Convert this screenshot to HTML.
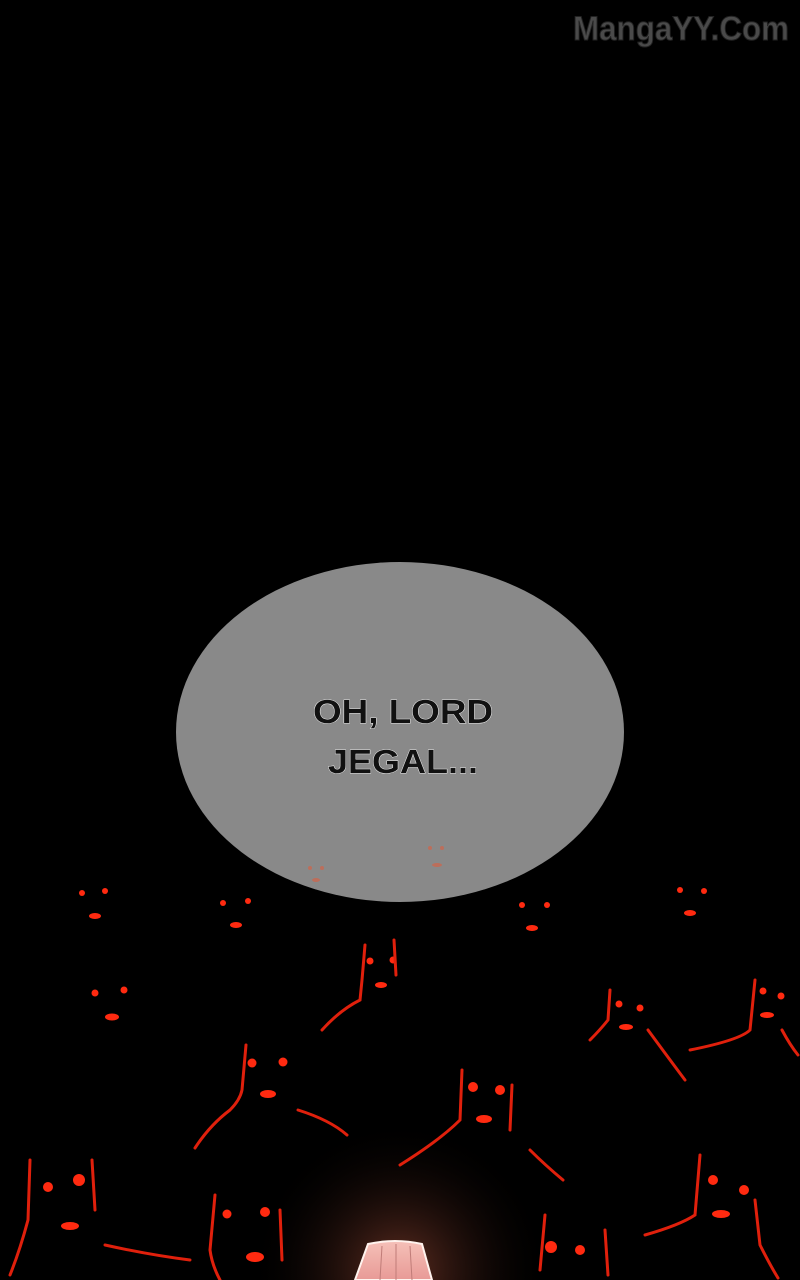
<!DOCTYPE html>
<html><head><style>
html,body{margin:0;padding:0;background:#000;width:800px;height:1280px;overflow:hidden}
svg{display:block}
</style></head><body>
<svg width="800" height="1280" xmlns="http://www.w3.org/2000/svg">
<defs>
<radialGradient id="glow" cx="400" cy="1270" r="150" gradientUnits="userSpaceOnUse">
<stop offset="0" stop-color="#7a3a2a" stop-opacity="0.8"/>
<stop offset="1" stop-color="#000" stop-opacity="0"/>
</radialGradient>
<linearGradient id="pink" x1="0" y1="0" x2="0" y2="1">
<stop offset="0" stop-color="#f5c0b8"/><stop offset="1" stop-color="#e89a96"/>
</linearGradient>
</defs>
<rect width="800" height="1280" fill="#000"/>
<text x="681" y="40" text-anchor="middle" font-family="Liberation Sans, sans-serif" font-weight="bold" font-size="34" fill="#4a4a4a" stroke="#222" stroke-width="1" textLength="216" lengthAdjust="spacingAndGlyphs">MangaYY.Com</text>
<ellipse cx="400" cy="732" rx="224" ry="170" fill="#898989"/>
<g font-family="Liberation Sans, sans-serif" font-weight="bold" font-size="33" fill="#111" stroke="#fff" stroke-width="0.8" paint-order="stroke" text-anchor="middle">
<text x="403" y="723" textLength="180" lengthAdjust="spacingAndGlyphs">OH, LORD</text>
<text x="403" y="773" textLength="150" lengthAdjust="spacingAndGlyphs">JEGAL...</text>
</g>
<g fill="#c96850" opacity="0.8">
<circle cx="310" cy="868" r="2"/><circle cx="322" cy="868" r="2"/><ellipse cx="316" cy="880" rx="4" ry="2"/>
<circle cx="430" cy="848" r="2"/><circle cx="442" cy="848" r="2"/><ellipse cx="437" cy="865" rx="5" ry="2"/>
</g>
<rect x="0" y="1100" width="800" height="180" fill="url(#glow)"/>
<g fill="#ff2a10">
<circle cx="82" cy="893" r="3"/><circle cx="105" cy="891" r="3"/><ellipse cx="95" cy="916" rx="6" ry="3"/>
<circle cx="223" cy="903" r="3"/><circle cx="248" cy="901" r="3"/><ellipse cx="236" cy="925" rx="6" ry="3"/>
<circle cx="522" cy="905" r="3"/><circle cx="547" cy="905" r="3"/><ellipse cx="532" cy="928" rx="6" ry="3"/>
<circle cx="680" cy="890" r="3"/><circle cx="704" cy="891" r="3"/><ellipse cx="690" cy="913" rx="6" ry="3"/>
<circle cx="95" cy="993" r="3.5"/><circle cx="124" cy="990" r="3.5"/><ellipse cx="112" cy="1017" rx="7" ry="3.5"/>
<circle cx="370" cy="961" r="3.5"/><circle cx="393" cy="960" r="3.5"/><ellipse cx="381" cy="985" rx="6" ry="3"/>
<circle cx="252" cy="1063" r="4.5"/><circle cx="283" cy="1062" r="4.5"/><ellipse cx="268" cy="1094" rx="8" ry="4"/>
<circle cx="473" cy="1087" r="5"/><circle cx="500" cy="1090" r="5"/><ellipse cx="484" cy="1119" rx="8" ry="4"/>
<circle cx="619" cy="1004" r="3.5"/><circle cx="640" cy="1008" r="3.5"/><ellipse cx="626" cy="1027" rx="7" ry="3"/>
<circle cx="763" cy="991" r="3.5"/><circle cx="781" cy="996" r="3.5"/><ellipse cx="767" cy="1015" rx="7" ry="3"/>
<circle cx="48" cy="1187" r="5"/><circle cx="79" cy="1180" r="6"/><ellipse cx="70" cy="1226" rx="9" ry="4"/>
<circle cx="227" cy="1214" r="4.5"/><circle cx="265" cy="1212" r="5"/><ellipse cx="255" cy="1257" rx="9" ry="5"/>
<circle cx="551" cy="1247" r="6"/><circle cx="580" cy="1250" r="5"/>
<circle cx="713" cy="1180" r="5"/><circle cx="744" cy="1190" r="5"/><ellipse cx="721" cy="1214" rx="9" ry="4"/>
</g>
<g fill="none" stroke="#e0200c" stroke-width="3" stroke-linecap="round">
<path d="M365 945 L362 980 L360 1000 Q340 1010 322 1030"/><path d="M394 940 L396 975"/>
<path d="M246 1045 L242 1090 Q240 1100 230 1110 Q210 1125 195 1148"/><path d="M298 1110 Q330 1120 347 1135"/>
<path d="M462 1070 L460 1120 Q440 1140 400 1165"/><path d="M512 1085 L510 1130"/><path d="M530 1150 Q545 1165 563 1180"/>
<path d="M610 990 L608 1020 Q600 1030 590 1040"/><path d="M648 1030 Q670 1060 685 1080"/>
<path d="M755 980 L750 1030 Q740 1040 690 1050"/><path d="M782 1030 Q790 1045 798 1055"/>
<path d="M30 1160 L28 1220 Q20 1250 10 1275"/><path d="M92 1160 L95 1210"/><path d="M105 1245 Q150 1255 190 1260"/>
<path d="M215 1195 L210 1250 Q212 1265 220 1280"/><path d="M280 1210 L282 1260"/>
<path d="M545 1215 L540 1270"/><path d="M605 1230 L608 1275"/>
<path d="M700 1155 L695 1215 Q680 1225 645 1235"/><path d="M755 1200 L760 1245 Q770 1265 778 1278"/>
</g>
<path d="M368 1244 Q395 1238 422 1244 L432 1280 L355 1280 Z" fill="url(#pink)" stroke="#fff3ee" stroke-width="2"/>
<g stroke="#c07c78" stroke-width="1"><line x1="382" y1="1246" x2="380" y2="1280"/><line x1="396" y1="1244" x2="396" y2="1280"/><line x1="410" y1="1246" x2="412" y2="1280"/></g>
</svg>
</body></html>
